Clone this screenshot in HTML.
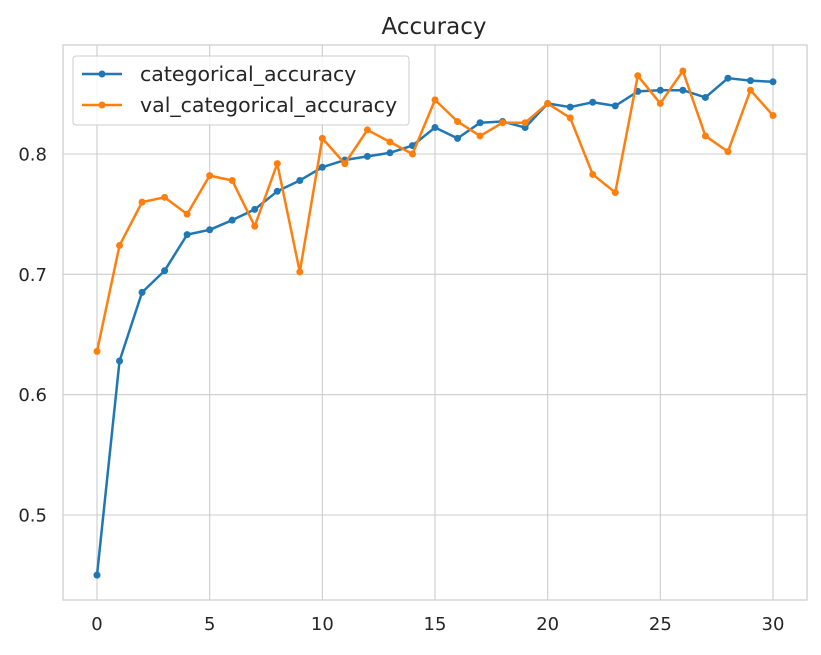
<!DOCTYPE html>
<html><head><meta charset="utf-8"><style>
body{margin:0;background:#fff;}
svg text{font-family:"DejaVu Sans","Liberation Sans",sans-serif;fill:#262626;}
</style></head><body>
<svg id="chart" width="821" height="650" xmlns="http://www.w3.org/2000/svg">
<text x="434" y="34" font-size="23" text-anchor="middle">Accuracy</text>
<g id="grid"></g>
<rect x="63" y="45" width="744" height="555" fill="none" stroke="#cccccc" stroke-width="1.2"/>
<g id="series"></g>
<g id="ticks"></g>
<g>
<rect x="73" y="56" width="336" height="69" rx="3" fill="#fff" fill-opacity="0.8" stroke="#cccccc"/>
<line x1="82" y1="74" x2="122" y2="74" stroke="#1f77b4" stroke-width="2.5"/><circle cx="102" cy="74" r="3.5" fill="#1f77b4"/>
<text x="140" y="81" font-size="20.5">categorical_accuracy</text>
<line x1="82" y1="105" x2="122" y2="105" stroke="#ff7f0e" stroke-width="2.5"/><circle cx="102" cy="105" r="3.5" fill="#ff7f0e"/>
<text x="140" y="112" font-size="20.5">val_categorical_accuracy</text>
</g>
</svg>
<script>
const epochs=[0,1,2,3,4,5,6,7,8,9,10,11,12,13,14,15,16,17,18,19,20,21,22,23,24,25,26,27,28,29,30];
const trainAcc=[0.450,0.628,0.685,0.703,0.733,0.737,0.745,0.754,0.769,0.778,0.789,0.795,0.798,0.801,0.807,0.822,0.813,0.826,0.827,0.822,0.842,0.839,0.843,0.840,0.852,0.853,0.853,0.847,0.863,0.861,0.860];
const valAcc=[0.636,0.724,0.760,0.764,0.750,0.782,0.778,0.740,0.792,0.702,0.813,0.792,0.820,0.810,0.800,0.845,0.827,0.815,0.826,0.826,0.842,0.830,0.783,0.768,0.865,0.842,0.869,0.815,0.802,0.853,0.832];
const xTicks=[0,5,10,15,20,25,30];
const yTicks=[0.5,0.6,0.7,0.8];
const NS='http://www.w3.org/2000/svg';
const X=v=>97+v*(773-97)/30;
const Y=v=>154-(v-0.8)*1203.3;
function mk(t,a,p){const e=document.createElementNS(NS,t);for(const k in a)e.setAttribute(k,a[k]);p.appendChild(e);return e;}
const grid=document.getElementById('grid'),ticks=document.getElementById('ticks'),series=document.getElementById('series');
xTicks.forEach(t=>{
 const l=mk('line',{x1:X(t),x2:X(t),y1:45,y2:600,stroke:'#cccccc','stroke-width':1.1},grid);
 
 
 const tx=mk('text',{x:X(t),y:630,'font-size':18,'text-anchor':'middle'},ticks);tx.textContent=t;
 
 
});
yTicks.forEach(t=>{
 const l=mk('line',{x1:63,x2:807,y1:Y(t),y2:Y(t),stroke:'#cccccc','stroke-width':1.1},grid);
 
 
 const tx=mk('text',{x:47,y:Y(t)+6.5,'font-size':18,'text-anchor':'end'},ticks);tx.textContent=t.toFixed(1);
 
 
});
function draw(vals,color,name){
 const p=mk('polyline',{points:vals.map((v,i)=>X(epochs[i])+','+Y(v)).join(' '),fill:'none',stroke:color,'stroke-width':2.5,'stroke-linejoin':'round'},series);
 
 
 vals.forEach((v,i)=>{const c=mk('circle',{cx:X(epochs[i]),cy:Y(v),r:3.5,fill:color},series);
 
 });
}
draw(trainAcc,'#1f77b4','train-accuracy');
draw(valAcc,'#ff7f0e','val-accuracy');
</script>
</body></html>
